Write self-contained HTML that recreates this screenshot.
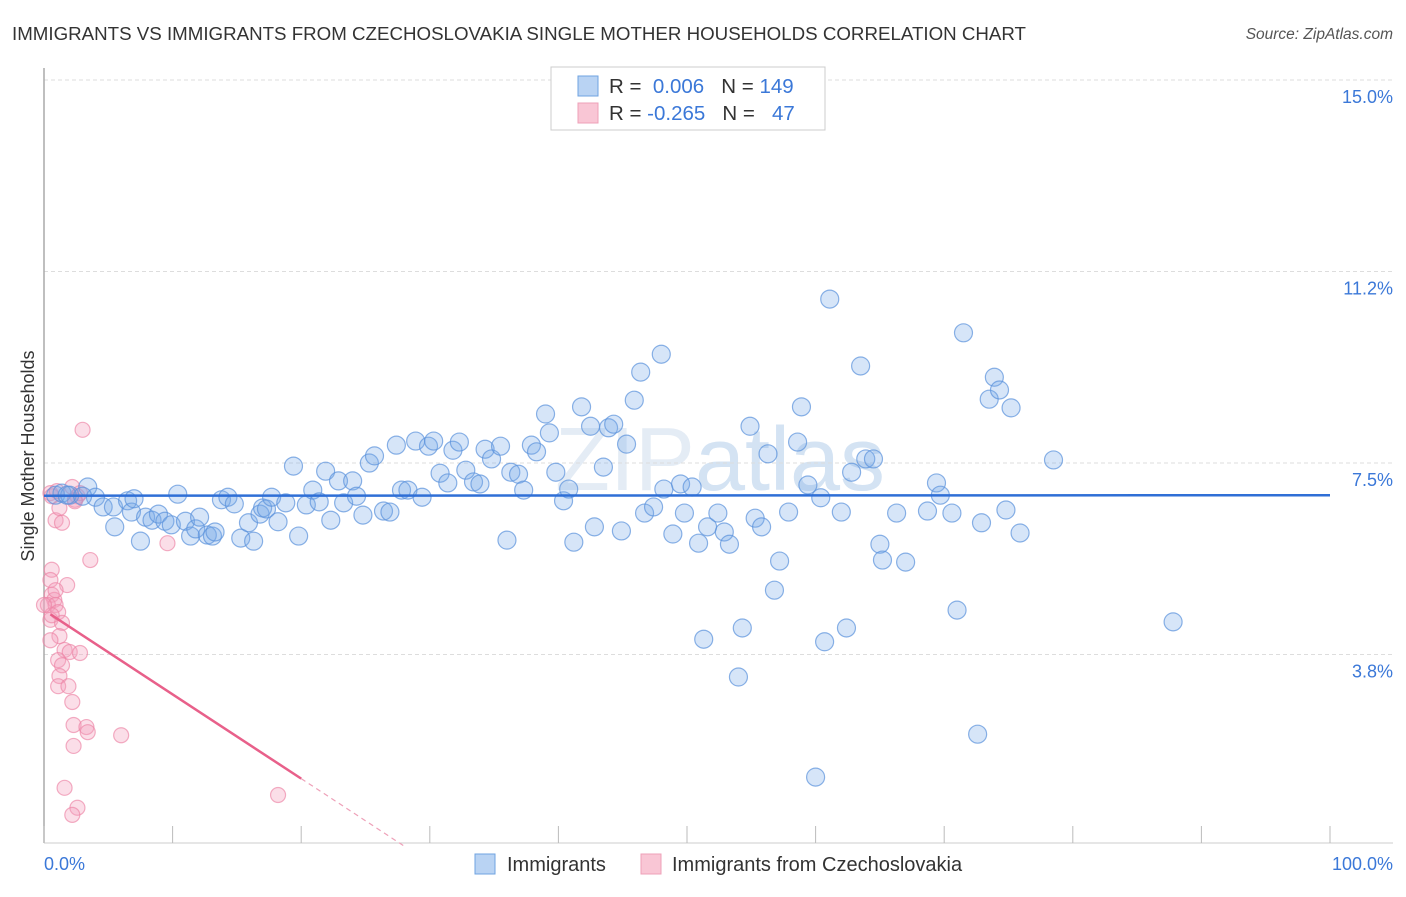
<!DOCTYPE html>
<html><head><meta charset="utf-8"><style>
body{margin:0;background:#fff;font-family:"Liberation Sans",sans-serif;}
svg text{font-family:"Liberation Sans",sans-serif;}
</style></head><body>
<svg id="chart" width="1406" height="892" xmlns="http://www.w3.org/2000/svg">
<text x="12" y="40" font-size="18.7" fill="#333" textLength="1014" lengthAdjust="spacingAndGlyphs">IMMIGRANTS VS IMMIGRANTS FROM CZECHOSLOVAKIA SINGLE MOTHER HOUSEHOLDS CORRELATION CHART</text>
<text x="1393" y="39" font-size="15.5" fill="#555" text-anchor="end" font-style="italic">Source: ZipAtlas.com</text>
<text x="720" y="490" font-size="90" fill="#e4ecf5" text-anchor="middle" font-family="Liberation Serif">ZIP<tspan font-family="Liberation Sans" fill="#d4e3f3">atlas</tspan></text>
<g id="grid"></g>
<line x1="44" y1="68" x2="44" y2="843" stroke="#aaa" stroke-width="1.5"/>
<line x1="44" y1="843" x2="1393" y2="843" stroke="#ccc" stroke-width="1"/>
<g id="xticks"></g>
<text transform="translate(34,456) rotate(-90)" font-size="18" fill="#333" text-anchor="middle">Single Mother Households</text>
<text x="44" y="870" font-size="18" fill="#3b78d8">0.0%</text>
<text x="1393" y="870" font-size="18" fill="#3b78d8" text-anchor="end">100.0%</text>
<g id="pink"></g>
<g id="blue"></g>
<g id="trends"></g>
<g>
<rect x="551" y="67" width="274" height="63" fill="#fff" stroke="#ccc"/>
<rect x="578" y="76" width="20" height="20" fill="#b9d3f3" stroke="#6fa3e0"/>
<rect x="578" y="103" width="20" height="20" fill="#f9c6d5" stroke="#eea0b8"/>
<text x="609" y="93" font-size="20.5" fill="#333">R = <tspan fill="#3b78d8">&#160;0.006</tspan>&#160;&#160;&#160;N = <tspan fill="#3b78d8">149</tspan></text>
<text x="609" y="120" font-size="20.5" fill="#333">R = <tspan fill="#3b78d8">-0.265</tspan>&#160;&#160;&#160;N = <tspan fill="#3b78d8">&#160;&#160;47</tspan></text>
</g>
<g>
<rect x="475" y="854" width="20" height="20" fill="#b9d3f3" stroke="#6fa3e0"/>
<text x="507" y="871" font-size="20" fill="#333">Immigrants</text>
<rect x="641" y="854" width="20" height="20" fill="#f9c6d5" stroke="#eea0b8"/>
<text x="672" y="871" font-size="20" fill="#333">Immigrants from Czechoslovakia</text>
</g>
</svg>
<script>
const yTicks=[15.0,11.25,7.5,3.75];
const yTickLabels=["15.0%","11.2%","7.5%","3.8%"];
const xTicks=[0,10,20,30,40,50,60,70,80,90,100];
const blueX=[0.9,1.4,2.0,3.4,4.0,4.6,5.4,5.5,6.5,6.8,7.5,7.9,8.4,8.9,9.4,9.9,10.4,11.0,11.4,11.8,12.1,12.7,13.1,13.3,13.8,14.3,14.8,15.3,15.9,16.3,16.8,17.0,17.3,17.7,18.2,18.8,19.4,19.8,20.4,20.9,21.4,21.9,22.3,22.9,23.3,24.0,24.3,24.8,25.3,25.7,26.4,26.9,27.4,27.8,28.3,28.9,29.4,29.9,30.3,30.8,31.4,31.8,32.3,32.8,33.4,33.9,34.3,34.8,35.5,36.0,36.3,36.9,37.3,37.9,38.3,39.0,39.3,39.8,40.4,40.8,41.2,41.8,42.5,42.8,43.5,43.9,44.3,44.9,45.3,45.9,46.4,46.7,47.4,48.0,48.2,48.9,49.5,49.8,50.4,50.9,51.3,51.6,52.4,52.9,53.3,54.0,54.3,54.9,55.3,55.8,56.3,56.8,57.2,57.9,58.6,58.9,59.4,60.0,60.4,60.7,61.1,62.0,62.4,62.8,63.5,63.9,64.5,65.0,65.2,66.3,67.0,68.7,69.4,69.7,70.6,71.0,71.5,72.9,73.5,73.9,74.3,74.8,75.2,75.9,72.6,78.5,87.8,1.8,3.0,7.0];
const blueY=[6.87,6.91,6.87,7.03,6.83,6.64,6.64,6.25,6.76,6.54,5.97,6.44,6.38,6.50,6.36,6.29,6.89,6.36,6.07,6.21,6.44,6.09,6.07,6.15,6.78,6.83,6.70,6.03,6.33,5.97,6.50,6.62,6.60,6.83,6.35,6.72,7.44,6.07,6.68,6.97,6.74,7.34,6.38,7.15,6.72,7.15,6.85,6.48,7.50,7.64,6.56,6.54,7.85,6.97,6.97,7.93,6.83,7.83,7.93,7.30,7.11,7.75,7.91,7.36,7.13,7.09,7.77,7.58,7.83,5.99,7.32,7.28,6.97,7.85,7.72,8.46,8.09,7.32,6.76,6.99,5.95,8.60,8.22,6.25,7.42,8.19,8.26,6.17,7.87,8.73,9.28,6.52,6.64,9.63,6.99,6.11,7.09,6.52,7.03,5.93,4.05,6.25,6.52,6.15,5.91,3.31,4.27,8.22,6.42,6.25,7.68,5.01,5.58,6.54,7.91,8.60,7.07,1.35,6.82,4.00,10.71,6.54,4.27,7.32,9.40,7.58,7.58,5.91,5.60,6.52,5.56,6.56,7.11,6.87,6.52,4.62,10.05,6.33,8.75,9.18,8.93,6.58,8.58,6.13,2.19,7.56,4.39,6.87,6.85,6.80];
const pinkX=[0.5,0.6,0.9,1.2,1.4,2.2,2.4,2.6,2.8,3.0,3.6,0.6,0.5,0.6,0.8,0.3,0.9,1.1,0.5,1.4,1.2,0.5,1.6,2.0,2.8,1.1,1.4,1.2,1.1,1.9,2.2,2.3,3.3,3.4,2.3,6.0,9.6,1.6,2.6,2.2,18.2,1.8,0.6,0.9,0,1.0,2.4];
const pinkY=[6.91,6.85,6.38,6.62,6.33,7.03,6.78,6.85,6.91,8.15,5.60,5.41,5.21,4.92,4.82,4.72,4.72,4.58,4.43,4.37,4.11,4.03,3.84,3.80,3.78,3.64,3.54,3.33,3.13,3.13,2.82,2.37,2.33,2.23,1.96,2.17,5.93,1.14,0.75,0.61,1.00,5.11,4.52,5.01,4.72,6.95,6.75];
const blueTrend=[6.86,6.87];
const pinkTrend=[4.62,-0.165];
const NS='http://www.w3.org/2000/svg';
const X=v=>44+v*12.86;
const Y=v=>80+(15-v)*51.07;
function mk(t,a,p){const e=document.createElementNS(NS,t);for(const k in a)e.setAttribute(k,a[k]);p.appendChild(e);return e;}
const grid=document.getElementById('grid');
yTicks.forEach((t,i)=>{
 const l=mk('line',{x1:44,x2:1393,y1:Y(t),y2:Y(t),stroke:'#ddd','stroke-dasharray':'4,3'},grid);
 
 
 const tx=mk('text',{x:1393,y:Y(t)+23,'font-size':18,fill:'#3b78d8','text-anchor':'end'},grid);
 tx.textContent=yTickLabels[i];
 
 
});
const xt=document.getElementById('xticks');
xTicks.forEach(t=>{
 const l=mk('line',{x1:X(t),x2:X(t),y1:826,y2:843,stroke:'#bbb'},xt);
 
 
});
const pg=document.getElementById('pink');
pinkX.forEach((x,i)=>{
 const c=mk('circle',{cx:X(x),cy:Y(pinkY[i]),r:7.5,fill:'rgba(244,160,188,0.35)',stroke:'rgba(236,130,165,0.65)','stroke-width':1.2},pg);
 
 
});
const bg=document.getElementById('blue');
blueX.forEach((x,i)=>{
 const c=mk('circle',{cx:X(x),cy:Y(blueY[i]),r:9,fill:'rgba(120,170,232,0.3)',stroke:'rgba(90,145,220,0.7)','stroke-width':1.2},bg);
 
 
});
const tg=document.getElementById('trends');
const bl=mk('line',{x1:X(0),x2:X(100),y1:Y(blueTrend[0]),y2:Y(blueTrend[1]),stroke:'#2f6fd6','stroke-width':2.5},tg);


const pf=x=>pinkTrend[0]+pinkTrend[1]*x;
const pl=mk('line',{x1:X(0.5),x2:X(20),y1:Y(pf(0.5)),y2:Y(pf(20)),stroke:'#e8608a','stroke-width':2.5},tg);


const xe=-pinkTrend[0]/pinkTrend[1];
const pd=mk('line',{x1:X(20),x2:X(xe),y1:Y(pf(20)),y2:Y(0),stroke:'#eea0b8','stroke-width':1.2,'stroke-dasharray':'5,4'},tg);


</script>
</body></html>
